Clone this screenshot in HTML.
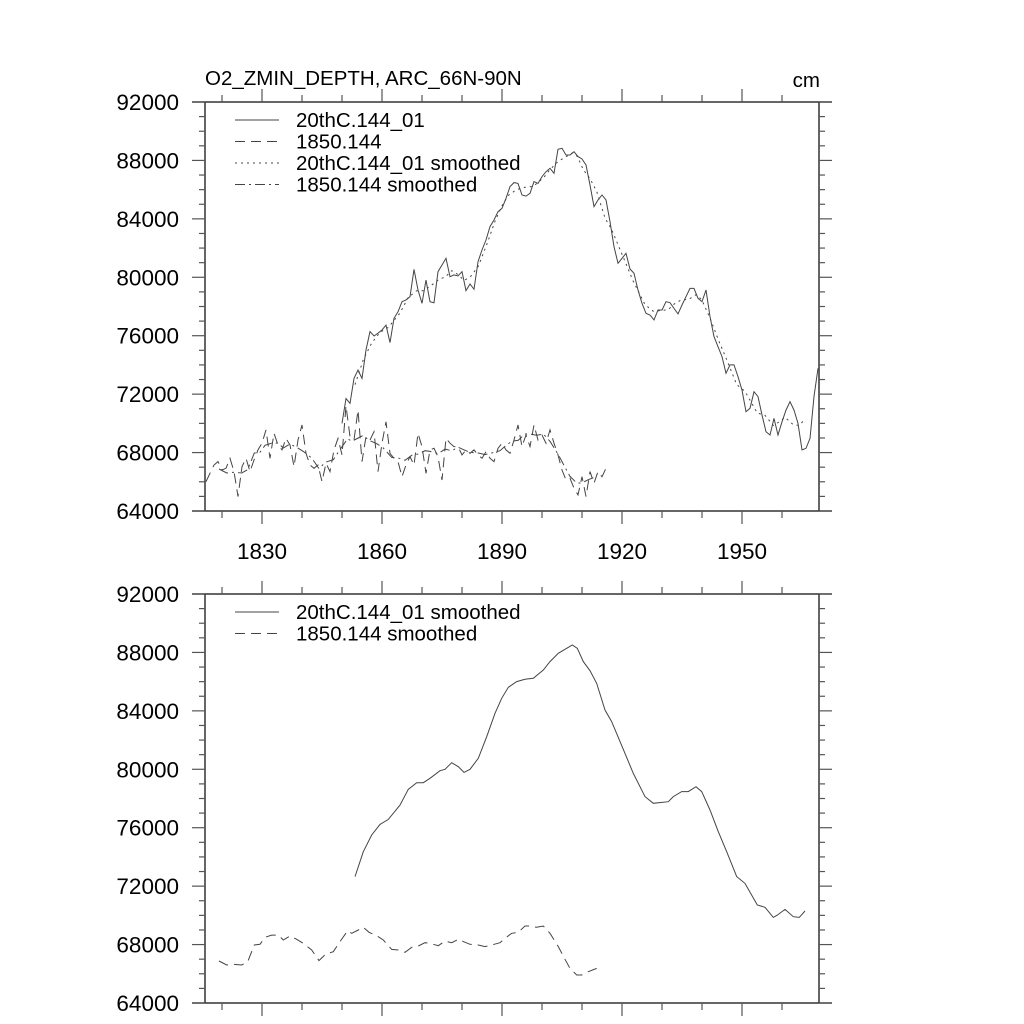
<!DOCTYPE html>
<html><head><meta charset="utf-8">
<style>
html,body{margin:0;padding:0;background:#fff;}
svg{display:block;font-family:"Liberation Sans",sans-serif;}
</style></head>
<body>
<svg id="chart" width="1024" height="1024" viewBox="0 0 1024 1024" xmlns="http://www.w3.org/2000/svg">
<text x="205" y="85" font-size="20.5">O2_ZMIN_DEPTH, ARC_66N-90N</text>
<text x="820" y="87" font-size="20.5" text-anchor="end">cm</text>
</svg>
<script>
const yTickLabels = [64000, 68000, 72000, 76000, 80000, 84000, 88000, 92000];
const xTickLabels = [1830, 1860, 1890, 1920, 1950];
const rawYears20 = [1850,1969];
const raw20 = [70000,71700,71370,73080,73650,73080,75020,76280,75980,76170,76390,76730,75530,77190,77640,78330,78450,78670,80540,79130,78220,79810,78330,78260,80380,80840,81300,80040,80160,80090,80380,79090,79540,79180,81070,81870,82550,83470,83920,84490,84720,85410,86200,86480,86430,85630,85560,85750,86550,86430,86890,87230,87460,87120,88760,88830,88370,88370,88600,88260,
88100,87690,86320,84840,85290,85630,85290,83810,82100,80960,81300,81640,80570,80270,79130,78220,77530,77420,77080,77760,77760,78330,78260,77870,77490,78100,78670,79240,79240,78560,78330,79130,77310,75940,75250,74570,73430,74000,74000,73200,72280,70800,71030,72170,71830,70570,69430,69200,70340,69200,70110,70910,71480,70910,70000,68180,68290,68970,71830,73770];
const rawYears1850 = [1816,1916];
const raw1850 = [66010,66580,67150,67380,66810,66920,67610,66700,64990,67040,67610,66700,67490,68180,68640,69550,67610,69320,68520,68180,68970,68520,67040,68860,69890,67950,67150,66920,67150,66010,67270,66700,68180,68970,67840,71200,69090,68860,70910,67380,69090,68860,69430,66700,68640,70110,67950,67610,67380,66350,67150,67720,
67150,69320,68410,66580,68180,68290,67720,66120,68970,68640,68410,68410,67840,68180,67950,68180,67840,67610,68060,67610,67380,68290,68640,68180,67950,68860,69890,68410,69200,68410,69890,68860,69200,68640,69550,68640,67840,66810,66120,66240,65560,65100,66350,64990,66700,65900,66700,66350,66920];
const smYears20 = [1853.25,1855.33,1857.42,1859.5,1861.58,1864.5,1866.58,1868.67,1870.33,1872,1874.5,1875.75,1877.42,1879.08,1880.5,1882,1884.08,1886.17,1888.25,1889.92,1891.58,1893.67,1895.75,1897.83,1900.33,1902,1904.08,1906.17,1907.58,1908.83,1910.33,1912,1913.67,1915.75,1917.42,1920.75,1922.83,1925.75,1927.83,1931.58,1932.83,1934.92,1936.58,1938.5,1939.92,1942,1944.08,1946.17,1948.67,1950.75,1953.83,1955.75,1957.83,1958.83,1960.75,1962.83,1964.33,1965.75];
const sm20 = [72650,74360,75500,76230,76570,77550,78630,79080,79080,79380,79900,80000,80450,80180,79790,80000,80750,82230,83830,84860,85610,86000,86160,86230,86800,87370,87940,88280,88510,88280,87370,86750,85880,84060,83260,81090,79720,78130,77670,77780,78130,78470,78470,78810,78470,77210,75730,74360,72650,72190,70710,70550,69860,70020,70410,69910,69860,70300];
const smYears1850 = [1819.25,1821.17,1822.83,1824.92,1826.42,1828.08,1829.5,1830.75,1832.42,1834.08,1835.33,1837,1838.67,1840.33,1842.42,1844.25,1845.92,1847.83,1849.5,1851.42,1852.42,1854.08,1855.33,1856.75,1858.67,1860.33,1862.42,1864.08,1865.75,1867.42,1869.08,1870.75,1872,1874.08,1875.75,1877.42,1879.08,1880.33,1882,1884.08,1885.75,1887.42,1889.5,1890.75,1892.42,1894.08,1895.75,1897,1898.67,1900.33,1902,1904.08,1905.75,1907,1908.67,1909.92,1911.58,1913.67];
const sm1850 = [66875,66600,66650,66600,66830,67970,68020,68500,68650,68650,68310,68590,68360,68080,67630,66900,67350,67510,68200,68950,68770,69000,69180,68840,68610,68310,67670,67630,67470,67810,67900,68130,68080,67920,68240,68130,68360,68200,68020,67970,67860,67970,68130,68430,68770,68840,69270,69270,69180,69270,68770,67860,66990,66370,65920,65920,66140,66370];

const NS = 'http://www.w3.org/2000/svg';
const svg = document.getElementById('chart');
const X0 = 205, X1 = 819, XMIN = 1815.75, XMAX = 1969.25;
function xScale(yr){ return X0 + (yr - XMIN) * (X1 - X0) / (XMAX - XMIN); }
function makeY(top, bot){ return v => bot - (v - 64000) * (bot - top) / 28000; }
function el(tag, attrs, parent){ const e = document.createElementNS(NS, tag); for (const k in attrs) e.setAttribute(k, attrs[k]); (parent||svg).appendChild(e); return e; }
const STROKE = '#444';

function yearsOf(range, vals){ return vals.map((v,i)=>range[0]+i); }

function drawPanel(top, bot, showXLabels, name){
  const g = el('g', {});
  
  
  const ys = makeY(top, bot);
  const fr = el('path', {d:`M192 ${top}H832M192 ${bot}H832M${X0} ${top}V${bot}M${X1} ${top}V${bot}`, stroke:'#333', 'stroke-width':1.5, fill:'none'}, g);
  
  
  for (let v = 64000; v <= 92000; v += 1000){
    const y = ys(v), major = (v % 4000 === 0);
    const L = major ? 13 : 6;
    el('line', {x1:X0-L, x2:X0, y1:y, y2:y, stroke:'#555', 'stroke-width':1.2}, g);
    el('line', {x1:X1, x2:X1+L, y1:y, y2:y, stroke:'#555', 'stroke-width':1.2}, g);
  }
  yTickLabels.forEach(v=>{
    const t = el('text', {x:179, y:ys(v)+8, 'font-size':22.5, 'text-anchor':'end'}, g);
    t.textContent = v;
    
    
  });
  for (let yr = 1820; yr <= 1960; yr += 10){
    const x = xScale(yr), major = ((yr - 1830) % 30 === 0);
    const L = major ? 13 : 7;
    el('line', {x1:x, x2:x, y1:bot, y2:bot+L, stroke:'#555', 'stroke-width':1.2}, g);
    el('line', {x1:x, x2:x, y1:top-L, y2:top, stroke:'#555', 'stroke-width':1.2}, g);
  }
  if (showXLabels) xTickLabels.forEach(yr=>{
    const t = el('text', {x:xScale(yr), y:bot+48, 'font-size':22.5, 'text-anchor':'middle'}, g);
    t.textContent = yr;
    
    
  });
  return {g, ys};
}

function line(g, ys, years, vals, dash, name){
  const d = vals.map((v,i)=>(i?'L':'M') + xScale(years[i]).toFixed(1) + ' ' + ys(v).toFixed(1)).join('');
  const p = el('path', {d, fill:'none', stroke:STROKE, 'stroke-width':1, 'stroke-dasharray':dash||'none'}, g);
  
  
}

function legend(g, y0, entries){
  entries.forEach((e,i)=>{
    const y = y0 + i*21.5;
    const l = el('line', {x1:235, x2:279, y1:y, y2:y, stroke:STROKE, 'stroke-width':1, 'stroke-dasharray':e[1]||'none'}, g);
    
    
    const t = el('text', {x:296, y:y+7, 'font-size':20.5}, g);
    t.textContent = e[0];
    
    
  });
}

const DASH = '10 6', DOT = '2 4', DASHDOT = '10 4 2 4';
const p1 = drawPanel(102, 511, true, 'top-panel');
line(p1.g, p1.ys, yearsOf(rawYears1850, raw1850), raw1850, DASH, 'series-1850-raw');
line(p1.g, p1.ys, yearsOf(rawYears20, raw20), raw20, null, 'series-20thc-raw');
line(p1.g, p1.ys, smYears20, sm20, DOT, 'series-20thc-smoothed');
line(p1.g, p1.ys, smYears1850, sm1850, DASHDOT, 'series-1850-smoothed');
legend(p1.g, 120, [['20thC.144_01',null],['1850.144',DASH],['20thC.144_01 smoothed',DOT],['1850.144 smoothed',DASHDOT]]);

const p2 = drawPanel(594, 1003, false, 'bottom-panel');
line(p2.g, p2.ys, smYears20, sm20, null, 'series-20thc-smoothed-bottom');
line(p2.g, p2.ys, smYears1850, sm1850, DASH, 'series-1850-smoothed-bottom');
legend(p2.g, 612, [['20thC.144_01 smoothed',null],['1850.144 smoothed',DASH]]);
</script>
</body></html>
